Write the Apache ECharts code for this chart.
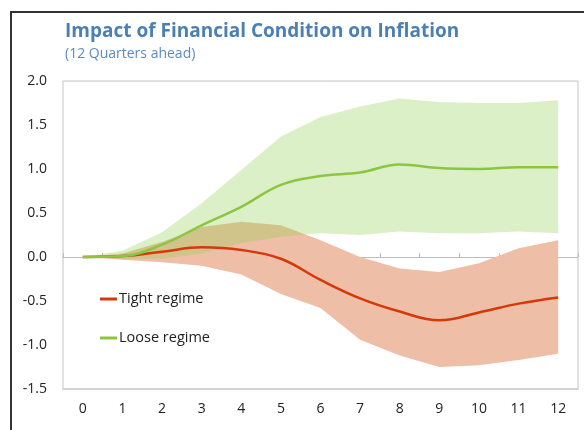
<!DOCTYPE html>
<html>
<head>
<meta charset="utf-8">
<script src="https://cdn.jsdelivr.net/npm/echarts@6/dist/echarts.min.js"></script>
<style>
html,body{margin:0;padding:0;background:#fff;}
#chart{width:584px;height:430px;}
</style>
</head>
<body>
<div id="chart"></div>
<script>
const categories = ['0','1','2','3','4','5','6','7','8','9','10','11','12'];
const tight      = [0, 0.01, 0.06, 0.11, 0.08, -0.02, -0.26, -0.47, -0.62, -0.72, -0.63, -0.53, -0.46];
const tightUpper = [0, 0.04, 0.17, 0.34, 0.40, 0.36, 0.19, 0.00, -0.13, -0.17, -0.07, 0.10, 0.19];
const tightLower = [0, -0.03, -0.06, -0.10, -0.20, -0.42, -0.58, -0.94, -1.12, -1.25, -1.23, -1.17, -1.10];
const loose      = [0, 0.01, 0.14, 0.36, 0.57, 0.82, 0.92, 0.96, 1.05, 1.01, 1.00, 1.02, 1.02];
const looseUpper = [0, 0.07, 0.28, 0.61, 0.99, 1.37, 1.59, 1.71, 1.80, 1.76, 1.75, 1.75, 1.78];
const looseLower = [0, -0.02, -0.02, 0.04, 0.16, 0.23, 0.27, 0.25, 0.29, 0.27, 0.27, 0.29, 0.27];
const yTicks = {min: -1.5, max: 2.0, interval: 0.5};

const tightBand = tightUpper.map((v, i) => +(v - tightLower[i]).toFixed(4));
const looseBand = looseUpper.map((v, i) => +(v - looseLower[i]).toFixed(4));

const FONT = '"Open Sans", sans-serif';
const chart = echarts.init(document.getElementById('chart'), null, {renderer: 'canvas'});

const hidden = {lineStyle: {opacity: 0}, symbol: 'none', silent: true};

chart.setOption({
  animation: false,
  backgroundColor: '#fff',
  title: {
    text: 'Impact of Financial Condition on Inflation',
    subtext: '(12 Quarters ahead)',
    left: 60, top: 17, itemGap: 6,
    textStyle: {fontFamily: FONT, fontSize: 19, fontWeight: 'bold', color: '#4a80b3'},
    subtextStyle: {fontFamily: FONT, fontSize: 14, color: '#5a8cc0'}
  },
  graphic: [{
    type: 'polyline', silent: true,
    shape: {points: [[11, 430], [11, 12], [584, 12]]},
    style: {stroke: '#333', lineWidth: 2, fill: null}
  }],
  legend: {
    data: ['Tight regime', 'Loose regime'],
    orient: 'vertical', left: 100, top: 290, itemGap: 21, padding: 0,
    itemWidth: 17, itemHeight: 3, icon: 'rect',
    textStyle: {fontFamily: FONT, fontSize: 14.5, color: '#222', lineHeight: 18, padding: [0, 0, 0, -3]}
  },
  grid: {left: 63, top: 81, right: 6, bottom: 41, show: true, borderColor: '#c4c4c4', borderWidth: 1},
  xAxis: [{
    type: 'category', data: categories, boundaryGap: true,
    axisLine: {onZero: true, lineStyle: {color: '#bdbdbd', width: 1}},
    axisTick: {show: true, inside: true, length: 4, lineStyle: {color: '#bdbdbd'}},
    axisLabel: {show: false}, splitLine: {show: false}
  }, {
    type: 'category', data: categories, boundaryGap: true, position: 'bottom',
    axisLine: {show: true, onZero: false, lineStyle: {color: '#d4d4d4', width: 2}},
    axisTick: {show: false},
    axisLabel: {fontFamily: FONT, fontSize: 14, color: '#222', margin: 13}
  }],
  yAxis: {
    type: 'value', min: yTicks.min, max: yTicks.max, interval: yTicks.interval,
    axisLine: {show: false}, axisTick: {show: false}, splitLine: {show: false},
    axisLabel: {fontFamily: FONT, fontSize: 14, color: '#222', margin: 16, formatter: v => v.toFixed(1)}
  },
  series: [
    Object.assign({name: 'tl', type: 'line', data: tightLower, stack: 'r', stackStrategy: 'all', z: 1}, hidden),
    Object.assign({name: 'tb', type: 'line', data: tightBand, stack: 'r', stackStrategy: 'all', z: 1,
      areaStyle: {color: '#efbea6', opacity: 1}}, hidden),
    Object.assign({name: 'll', type: 'line', data: looseLower, stack: 'g', stackStrategy: 'all', z: 2}, hidden),
    Object.assign({name: 'lb', type: 'line', data: looseBand, stack: 'g', stackStrategy: 'all', z: 2,
      areaStyle: {color: 'rgba(146,208,80,0.32)', opacity: 1}}, hidden),
    {name: 'Tight regime', type: 'line', data: tight, smooth: 0.4, symbol: 'none', z: 5,
      color: '#d4380b', lineStyle: {color: '#d4380b', width: 2.5}},
    {name: 'Loose regime', type: 'line', data: loose, smooth: 0.4, symbol: 'none', z: 5,
      color: '#8cc641', lineStyle: {color: '#8cc641', width: 2.5}}
  ]
});
</script>
</body>
</html>
